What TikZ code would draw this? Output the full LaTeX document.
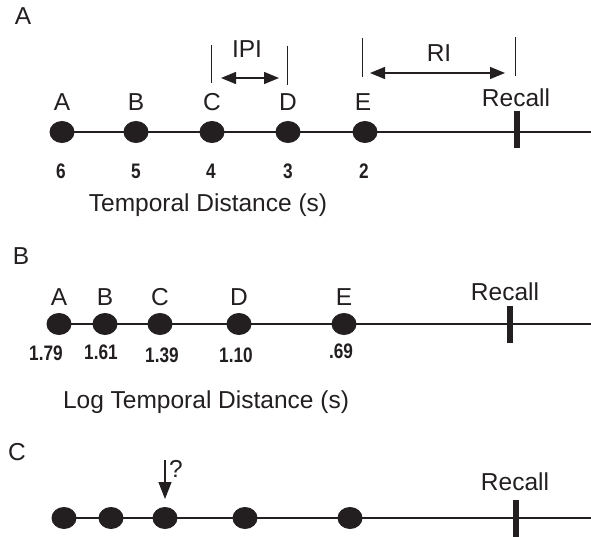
\documentclass[tikz,border=0pt]{standalone}
\usepackage{fontspec}
\setmainfont{Liberation Sans}
\newfontfamily\numfont{Liberation Sans}[FakeStretch=0.82]
\usetikzlibrary{arrows.meta,shapes.geometric}
\definecolor{ink}{HTML}{231F20}
\begin{document}
\begin{tikzpicture}[x=1pt,y=-1pt,
  event/.style={ellipse, fill=ink, minimum width=25pt, minimum height=22pt, inner sep=0pt},
  recallbar/.style={rectangle, fill=ink, minimum width=6pt, minimum height=37pt, inner sep=0pt},
  lbl/.style={font=\fontsize{24.5}{28}\selectfont, text=ink, inner sep=0pt, anchor=base},
  num/.style={font=\numfont\bfseries\fontsize{21}{24}\selectfont, text=ink, inner sep=0pt, anchor=base},
  axis/.style={draw=ink, line width=1.5pt},
  tickline/.style={draw=ink, line width=0.9pt},
  span/.style={draw=ink, line width=1.4pt, {Triangle[length=15pt,width=12pt]}-{Triangle[length=15pt,width=12pt]}},
  pointer/.style={draw=ink, line width=1.2pt, -{Triangle[length=17pt,width=13pt]}}]
\useasboundingbox (0,0) rectangle (591,537);

% ---------------- Panel A: temporal distance ----------------
\node[lbl] (panA) at (23,25) {A};
\coordinate (aEnd) at (591,132);
\draw[axis] (62,132) coordinate (aStart) -- (aEnd);
\node[event] (a1) at (62,132) {};
\node[event] (a2) at (136,132) {};
\node[event] (a3) at (212,132) {};
\node[event] (a4) at (288,132) {};
\node[event] (a5) at (365,132) {};
\node[recallbar] (aR) at (517,129.5) {};
\node[lbl] (aRtxt) at (516,107) {Recall};

\node[lbl] (aLa) at (62,110.5) {A};
\node[lbl] (aLb) at (136,110.5) {B};
\node[lbl] (aLc) at (212,110.5) {C};
\node[lbl] (aLd) at (288,110.5) {D};
\node[lbl] (aLe) at (363,110.5) {E};

\node[num] (aN1) at (61,179) {6};
\node[num] (aN2) at (136,179) {5};
\node[num] (aN3) at (211,179) {4};
\node[num] (aN4) at (288,179) {3};
\node[num] (aN5) at (364,179) {2};

\node[lbl] (aAxis) at (208,212) {Temporal Distance (s)};

% inter-presentation interval
\coordinate (ipiL1) at (211,45);  \coordinate (ipiL2) at (211,83);
\coordinate (ipiR1) at (287.5,46); \coordinate (ipiR2) at (287.5,85);
\draw[tickline] (ipiL1) -- (ipiL2);
\draw[tickline] (ipiR1) -- (ipiR2);
\coordinate (ipiA) at (221,78); \coordinate (ipiB) at (279,78);
\draw[span] (ipiA) -- (ipiB);
\node[lbl] (ipiTxt) at (247,58) {IPI};

% retention interval
\coordinate (riL1) at (362,38);  \coordinate (riL2) at (362,77);
\coordinate (riR1) at (515,37);  \coordinate (riR2) at (515,76);
\draw[tickline] (riL1) -- (riL2);
\draw[tickline] (riR1) -- (riR2);
\coordinate (riA) at (370,73); \coordinate (riB) at (505,73);
\draw[span] (riA) -- (riB);
\node[lbl] (riTxt) at (439,62) {RI};

% ---------------- Panel B: log temporal distance ----------------
\node[lbl] (panB) at (21,265) {B};
\coordinate (bEnd) at (591,324);
\draw[axis] (59,324) -- (bEnd);
\node[event] (b1) at (59,324) {};
\node[event] (b2) at (105,324) {};
\node[event] (b3) at (160,324) {};
\node[event] (b4) at (239,324) {};
\node[event] (b5) at (344,324) {};
\node[recallbar] (bR) at (510,324.5) {};
\node[lbl] (bRtxt) at (505,300) {Recall};

\node[lbl] (bLa) at (59,305) {A};
\node[lbl] (bLb) at (105,305) {B};
\node[lbl] (bLc) at (160,305) {C};
\node[lbl] (bLd) at (239,305) {D};
\node[lbl] (bLe) at (344,305) {E};

\node[num] (bN1) at (46,360) {1.79};
\node[num] (bN2) at (101,359) {1.61};
\node[num] (bN3) at (162,362) {1.39};
\node[num] (bN4) at (236,362) {1.10};
\node[num] (bN5) at (341,358) {.69};

\node[lbl] (bAxis) at (206,408) {Log Temporal Distance (s)};

% ---------------- Panel C: which item is retrieved ----------------
\node[lbl] (panC) at (17,460) {C};
\coordinate (cEnd) at (591,518);
\draw[axis] (64,518) -- (cEnd);
\node[event] (c1) at (64,518) {};
\node[event] (c2) at (111,518) {};
\node[event] (c3) at (165,518) {};
\node[event] (c4) at (245,518) {};
\node[event] (c5) at (350,518) {};
\node[recallbar] (cR) at (516,518) {};
\node[lbl] (cRtxt) at (515,490) {Recall};

\coordinate (qTop) at (165,460);
\coordinate (qTip) at (165,499);
\draw[pointer] (qTop) -- (qTip);
\node[lbl] (qTxt) at (176,477) {?};
\end{tikzpicture}
\end{document}
